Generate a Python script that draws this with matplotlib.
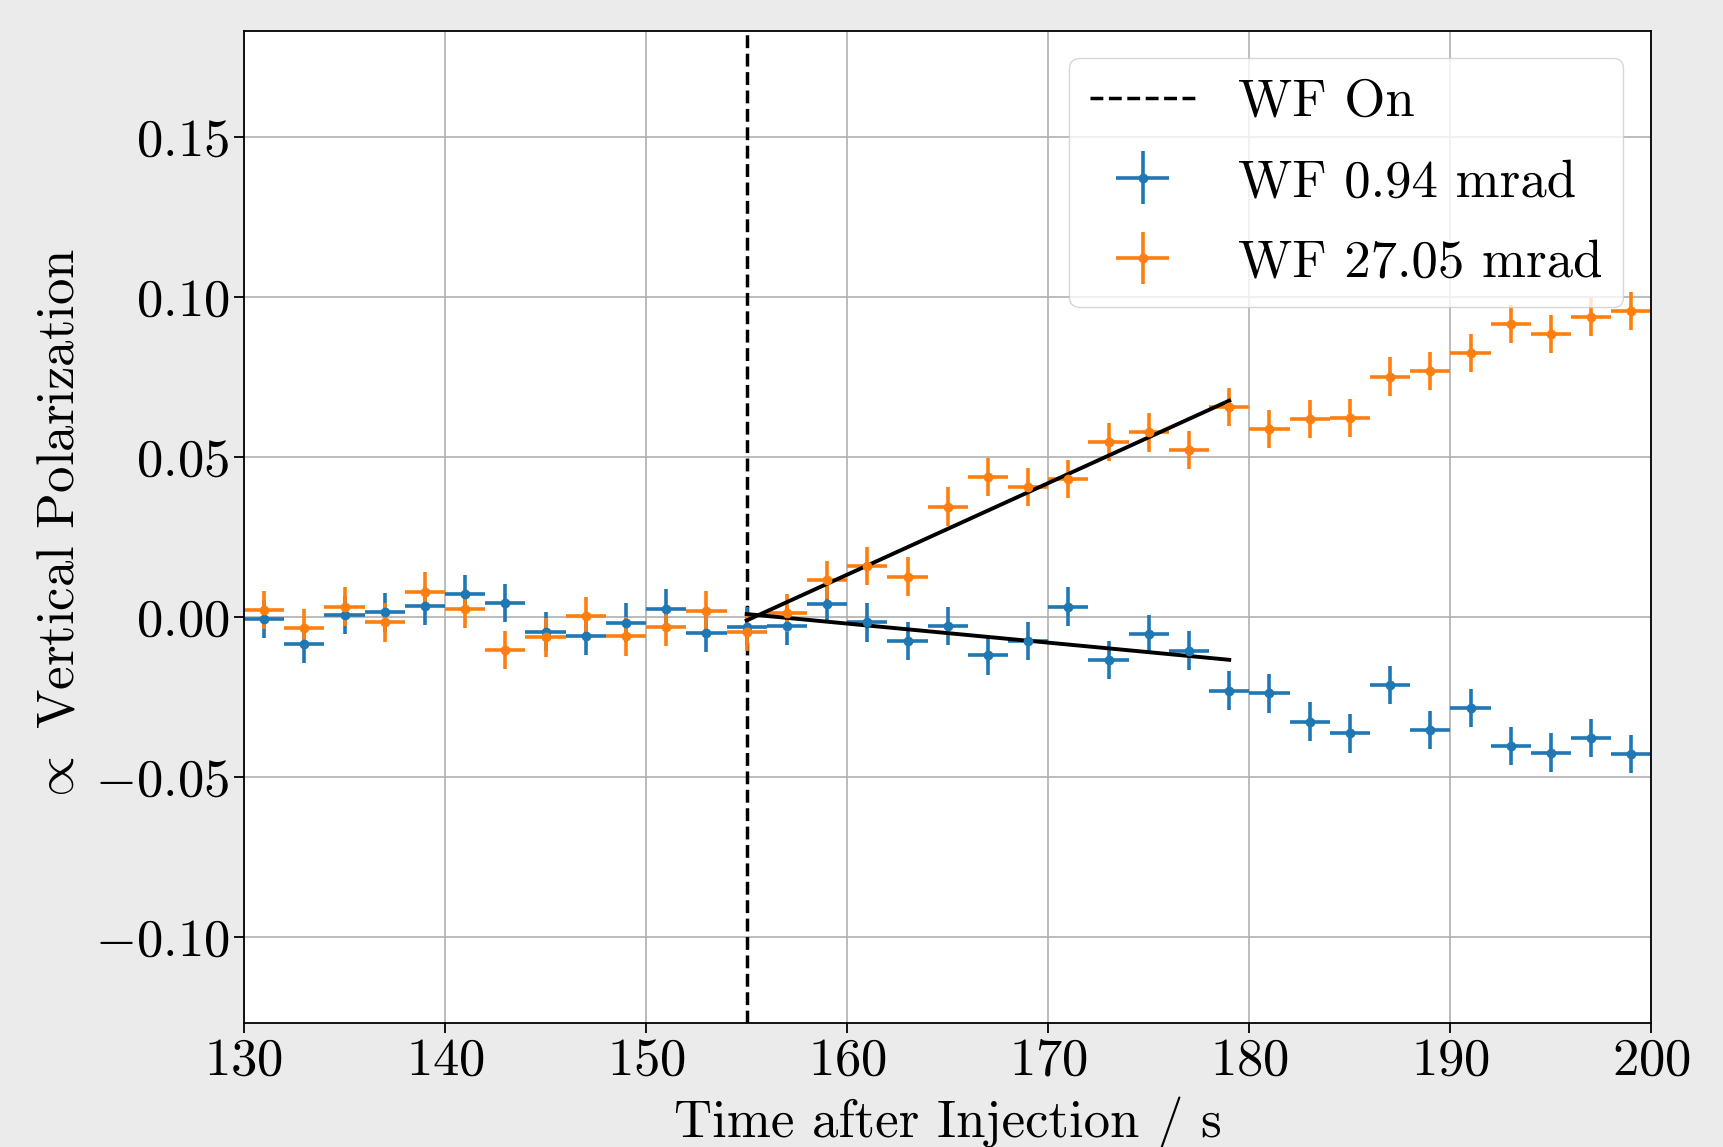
import numpy as np
import matplotlib
matplotlib.use("Agg")
import matplotlib.pyplot as plt

plt.rcParams['font.family'] = ['cmr10', 'DejaVu Serif']
plt.rcParams['mathtext.fontset'] = 'cm'
plt.rcParams['axes.formatter.use_mathtext'] = True
plt.rcParams['font.size'] = 38

# time bins (centres) and half widths
t = np.arange(131, 200, 2)
t_err = np.ones(len(t))

pol_094 = [-0.0005, -0.0083, 0.0007, 0.0015, 0.0035, 0.0072, 0.0044, -0.0045,
           -0.0058, -0.0017, 0.0027, -0.0048, -0.0029, -0.0026, 0.0042, -0.0016,
           -0.0074, -0.0027, -0.0119, -0.0074, 0.0033, -0.0133, -0.0052, -0.0104,
           -0.0229, -0.0238, -0.0326, -0.0363, -0.0211, -0.0352, -0.0284, -0.0402,
           -0.0423, -0.0378, -0.0427]
pol_2705 = [0.0023, -0.0035, 0.0033, -0.0016, 0.0080, 0.0026, -0.0102, -0.0063,
            0.0004, -0.0060, -0.0031, 0.0021, -0.0045, 0.0013, 0.0117, 0.0161,
            0.0127, 0.0346, 0.0438, 0.0408, 0.0432, 0.0547, 0.0578, 0.0523,
            0.0658, 0.0588, 0.0619, 0.0622, 0.0752, 0.0770, 0.0825, 0.0916,
            0.0885, 0.0938, 0.0957]
pol_err = np.full(len(t), 0.006)

t_wf_on = 155
# linear fits after WF on
fit_t = [155, 179]
fit_094 = [0.0010, -0.0133]
fit_2705 = [-0.0010, 0.0677]

fig = plt.figure(figsize=(17.23, 11.47), dpi=100, facecolor='#ebebeb')
ax = fig.add_axes([0.1416, 0.1084, 0.8169, 0.8648])

ax.axvline(t_wf_on, color='k', ls='--', lw=2.5, label='WF On')
ax.errorbar(t, pol_094, xerr=t_err, yerr=pol_err, fmt='.', color='C0',
            elinewidth=2.6, ms=12, label='WF 0.94 mrad')
ax.errorbar(t, pol_2705, xerr=t_err, yerr=pol_err, fmt='.', color='C1',
            elinewidth=2.6, ms=12, label='WF 27.05 mrad')
ax.plot(fit_t, fit_094, color='k', lw=2.8)
ax.plot(fit_t, fit_2705, color='k', lw=2.8)

ax.set_xlim(130, 200)
ax.set_ylim(-0.1267, 0.1833)
ax.set_yticks([-0.10, -0.05, 0.00, 0.05, 0.10, 0.15])
ax.grid(True, lw=1.2, color='#b0b0b0')
ax.set_axisbelow(True)
for s in ax.spines.values():
    s.set_linewidth(1.3)
ax.tick_params(length=7, width=1.3)
ax.set_xlabel('Time after Injection / s', labelpad=9)
ax.set_ylabel(r'$\propto$ Vertical Polarization', labelpad=8)

ax.legend(loc='upper right', bbox_to_anchor=(0.980, 0.9726), borderaxespad=0,
          labelspacing=0.63)

fig.savefig('out.png', dpi=100, facecolor=fig.get_facecolor())
